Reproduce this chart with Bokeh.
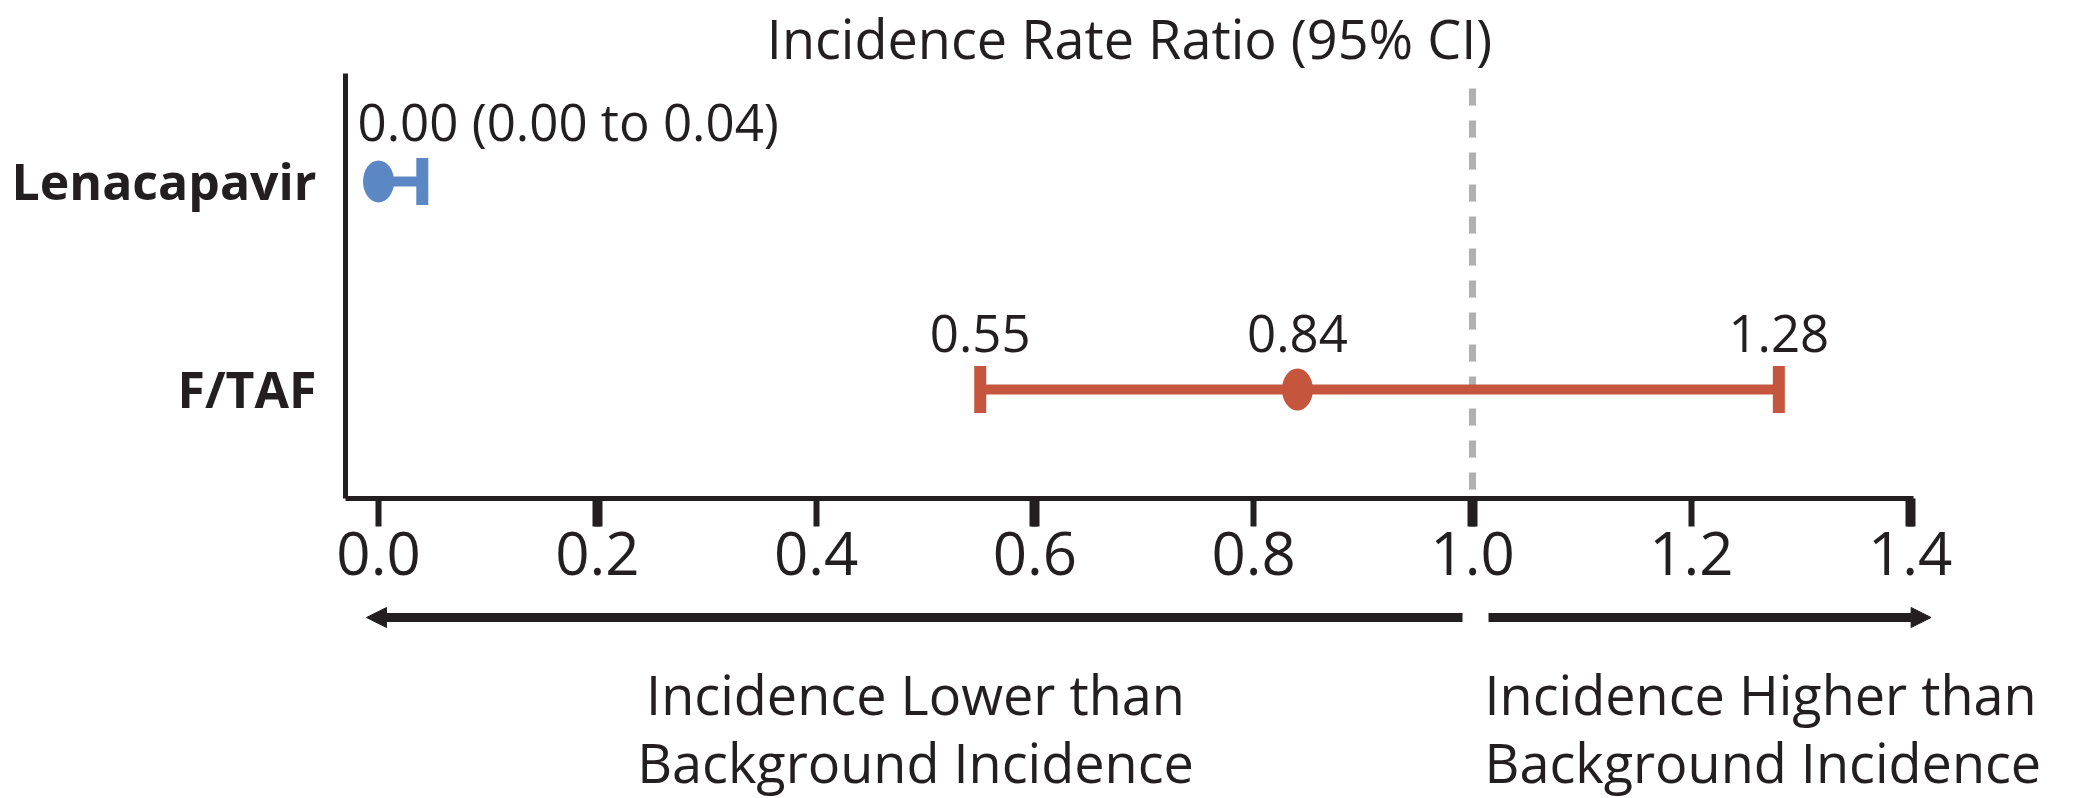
import math
from bokeh.plotting import figure
from bokeh.models import Range1d, FixedTicker, Arrow, NormalHead, ColumnDataSource
from bokeh.layouts import column
from bokeh.embed import file_html
from bokeh.resources import INLINE
from bokeh.core.properties import value

# ---- data ----
groups = ["Lenacapavir", "F/TAF"]
irr = [0.00, 0.84]
ci_low = [0.00, 0.55]
ci_high = [0.04, 1.28]
x_ticks = [0.0, 0.2, 0.4, 0.6, 0.8, 1.0, 1.2, 1.4]
x_tick_labels = ["0.0", "0.2", "0.4", "0.6", "0.8", "1.0", "1.2", "1.4"]
title_text = "Incidence Rate Ratio (95% CI)"
lower_text = "Incidence Lower than\nBackground Incidence"
higher_text = "Incidence Higher than\nBackground Incidence"
null_value = 1.0

# ---- style ----
FONT = "Open Sans"
INK = "#231f20"
colors = ["#5b87c4", "#c5563d"]

W = 2074
LEFT, RIGHT, BOTTOM = 345, 161, 100
H_TITLE = 73
FRAME_H = 425
H_MAIN = FRAME_H + BOTTOM
H_BOT = 200
FRAME_W = W - LEFT - RIGHT

x_range = Range1d(-0.0302, 1.4031)
PX = (x_range.end - x_range.start) / FRAME_W  # data units per pixel
full_range = Range1d(x_range.start - LEFT * PX, x_range.end + RIGHT * PX)

y_pos = [len(groups) - i for i in range(len(groups))]
y_range = Range1d(0.476, 2.519)
PY = (y_range.end - y_range.start) / FRAME_H


def blank_panel(height):
    f = figure(width=W, height=height, x_range=full_range, y_range=Range1d(height, 0),
               output_backend="svg", toolbar_location=None,
               x_axis_location=None, y_axis_location=None,
               min_border_left=0, min_border_right=0, min_border_top=0, min_border_bottom=0)
    f.frame_align = False
    f.outline_line_color = None
    f.grid.visible = False
    f.background_fill_color = "white"
    f.border_fill_color = "white"
    return f


# ---- title panel ----
pt = blank_panel(H_TITLE)
pt.text(x=[(x_range.start + x_range.end) / 2], y=[37], text=[title_text], text_align="center",
        text_baseline="middle", text_font=value(FONT), text_font_size="54px", text_color=INK)

# ---- main panel ----
p = figure(width=W, height=H_MAIN, x_range=x_range, y_range=y_range,
           output_backend="svg", toolbar_location=None,
           min_border_left=LEFT, min_border_right=RIGHT,
           min_border_top=0, min_border_bottom=BOTTOM)
p.frame_align = False
p.outline_line_color = None
p.grid.visible = False
p.background_fill_color = "white"
p.border_fill_color = "white"

xa = p.xaxis[0]
xa.ticker = FixedTicker(ticks=x_ticks, minor_ticks=x_ticks[1::2])
xa.major_label_overrides = {t: l for t, l in zip(x_ticks, x_tick_labels)}
xa.axis_line_width = 5
xa.axis_line_color = INK
xa.major_tick_out = 28
xa.major_tick_in = 0
xa.major_tick_line_width = 6
xa.major_tick_line_color = INK
xa.minor_tick_out = 28
xa.minor_tick_in = 0
xa.minor_tick_line_width = 10
xa.minor_tick_line_color = INK
xa.major_label_text_font = FONT
xa.major_label_text_font_size = "60px"
xa.major_label_text_color = INK
xa.major_label_standoff = 5

ya = p.yaxis[0]
ya.ticker = FixedTicker(ticks=y_pos)
ya.major_label_overrides = {y: g for y, g in zip(y_pos, groups)}
ya.major_tick_line_color = None
ya.minor_tick_line_color = None
ya.axis_line_width = 5
ya.axis_line_color = INK
ya.major_label_text_font = FONT
ya.major_label_text_font_style = "bold"
ya.major_label_text_font_size = "50px"
ya.major_label_text_color = INK
ya.major_label_standoff = 23

# dashed reference line at IRR = 1 (drawn from near the top downwards)
p.segment(x0=[null_value], x1=[null_value], y0=[y_range.end - 15 * PY], y1=[y_range.start],
          line_color="#b0b0b0", line_width=7, line_dash="17 15")

# CI lines
p.segment(x0=ci_low, x1=ci_high, y0=y_pos, y1=y_pos, line_color=colors, line_width=10)

# caps
cap_x, cap_y, cap_c = [], [], []
for lo, hi, est, y, c in zip(ci_low, ci_high, irr, y_pos, colors):
    if lo != est:
        cap_x.append(lo); cap_y.append(y); cap_c.append(c)
    cap_x.append(hi); cap_y.append(y); cap_c.append(c)
p.rect(x=cap_x, y=cap_y, width=12, height=47, width_units="screen", height_units="screen",
       fill_color=cap_c, line_color=None)

# point estimates
p.ellipse(x=irr, y=y_pos, width=31, height=42, width_units="screen", height_units="screen",
          fill_color=colors, line_color=None)

# value labels
lab_x, lab_y, lab_t, lab_a, lab_o, lab_yo = [], [], [], [], [], []
for i, (lo, hi, est, y) in enumerate(zip(ci_low, ci_high, irr, y_pos)):
    if i == 0:
        lab_x.append(est); lab_y.append(y)
        lab_t.append(f"{est:.2f} ({lo:.2f} to {hi:.2f})")
        lab_a.append("left"); lab_o.append(-21); lab_yo.append(-60)
    else:
        for v in (lo, est, hi):
            lab_x.append(v); lab_y.append(y)
            lab_t.append(f"{v:.2f}")
            lab_a.append("center"); lab_o.append(0); lab_yo.append(-56)
src = ColumnDataSource(dict(x=lab_x, y=lab_y, t=lab_t, a=lab_a, o=lab_o, yo=lab_yo))
p.text(x="x", y="y", text="t", source=src, text_align="a", x_offset="o", y_offset="yo",
       text_baseline="middle", text_font=value(FONT), text_font_size="51px", text_color=INK)

# ---- bottom panel: direction arrows and captions ----
pb = blank_panel(H_BOT)

arrow_y = 19
pb.add_layout(Arrow(end=NormalHead(size=20, fill_color=INK, line_color=INK),
                    x_start=null_value - 10 * PX, y_start=arrow_y,
                    x_end=x_ticks[0] - 12 * PX, y_end=arrow_y,
                    line_width=9, line_color=INK))
pb.add_layout(Arrow(end=NormalHead(size=20, fill_color=INK, line_color=INK),
                    x_start=null_value + 16 * PX, y_start=arrow_y,
                    x_end=x_ticks[-1] + 21 * PX, y_end=arrow_y,
                    line_width=9, line_color=INK))

LINE_GAP = 68
for txt, xc, align, xo in ((lower_text, (x_ticks[0] + null_value) / 2, "center", -10),
                           (higher_text, null_value, "left", 12)):
    lines = txt.split("\n")
    pb.text(x=[xc] * len(lines), y=[95 + k * LINE_GAP for k in range(len(lines))],
            text=lines, text_align=align, x_offset=xo, text_baseline="middle",
            text_font=value(FONT), text_font_size="54px", text_color=INK)

layout = column(pt, p, pb, spacing=0)
open("out.html", "w").write(file_html(layout, INLINE))
